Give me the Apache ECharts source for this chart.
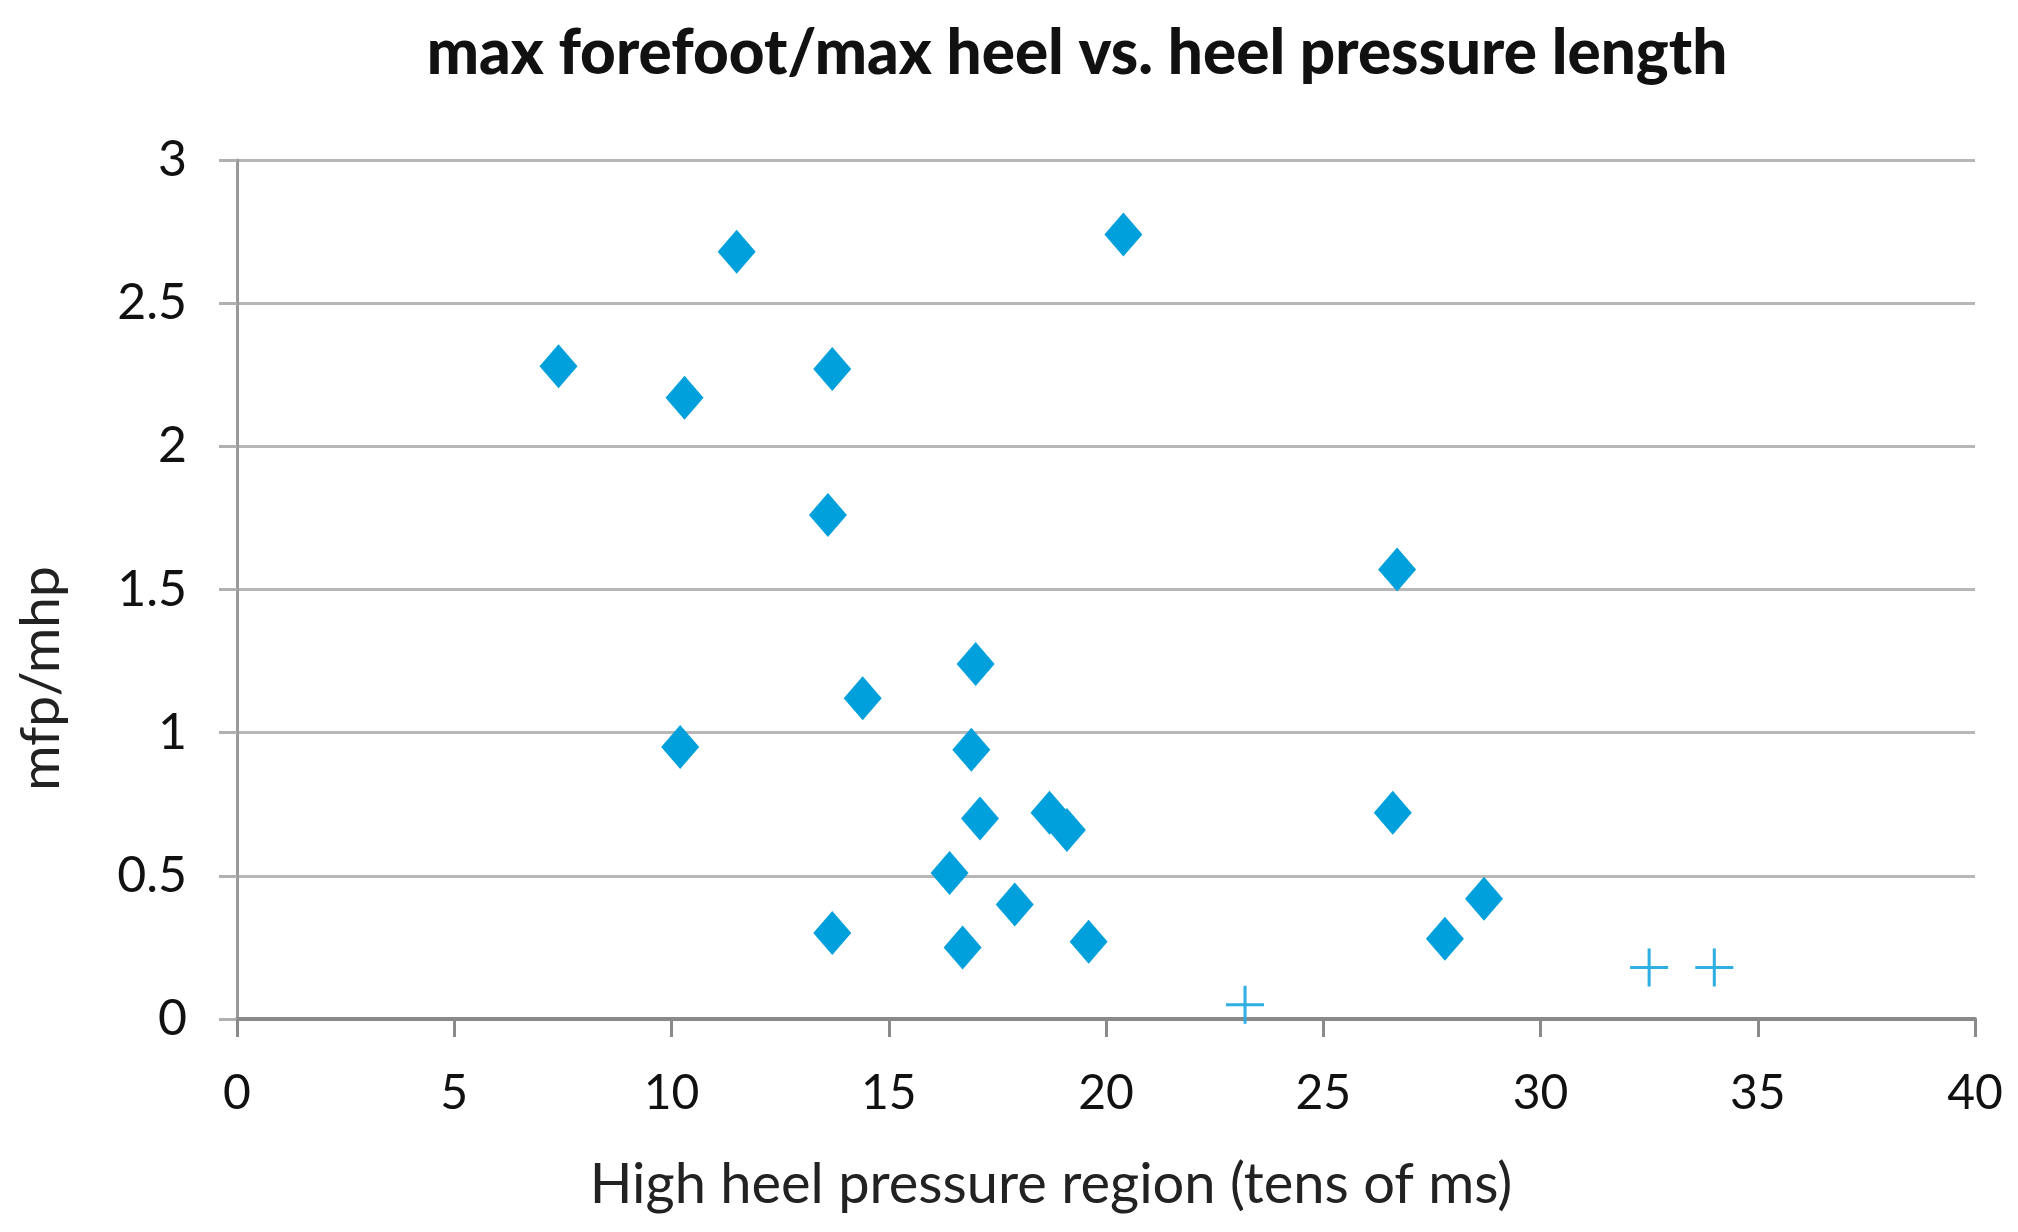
<!DOCTYPE html>
<html>
<head>
<meta charset="utf-8">
<title>max forefoot/max heel vs. heel pressure length</title>
<script src="https://cdn.jsdelivr.net/npm/echarts@6/dist/echarts.min.js"></script>
<style>
  html, body { margin: 0; padding: 0; background: #fff; }
  #chart { width: 2018px; height: 1232px; }
</style>
</head>
<body>
<div id="chart"></div>
<script>
// heel pressure length (tens of ms) and mfp/mhp ratio
const heelLength = [7.4, 11.5, 10.3, 13.7, 20.4, 13.6, 26.7, 17.0, 14.4, 10.2, 16.9,
  17.1, 18.7, 19.1, 26.6, 16.4, 17.9, 13.7, 16.7, 19.6, 27.8, 28.7];
const ratio = [2.28, 2.68, 2.17, 2.27, 2.74, 1.76, 1.57, 1.24, 1.12, 0.95, 0.94,
  0.70, 0.72, 0.66, 0.72, 0.51, 0.40, 0.30, 0.25, 0.27, 0.28, 0.42];

// second group drawn with plus markers
const plusLength = [23.2, 32.5, 34.0];
const plusRatio = [0.05, 0.18, 0.18];

const xTicks = [0, 5, 10, 15, 20, 25, 30, 35, 40];
const yTicks = [0, 0.5, 1, 1.5, 2, 2.5, 3];

const pairs = (xs, ys) => xs.map((x, i) => [x, ys[i]]);

const font = 'Lato, "Open Sans", "DejaVu Sans", sans-serif';
const plusPath = 'path://M-0.8,-10 L0.8,-10 L0.8,-0.8 L10,-0.8 L10,0.8 L0.8,0.8 L0.8,10 L-0.8,10 L-0.8,0.8 L-10,0.8 L-10,-0.8 L-0.8,-0.8 Z';

const chart = echarts.init(document.getElementById('chart'));
chart.setOption({
  backgroundColor: '#fff',
  animation: false,
  title: {
    text: 'max forefoot/max heel vs. heel pressure length',
    left: 1072,
    textAlign: 'center',
    top: 18,
    textStyle: { fontFamily: font, fontWeight: 900, fontSize: 62, color: '#111' }
  },
  grid: { left: 237, right: 43, top: 160, bottom: 213 },
  xAxis: {
    type: 'value',
    min: xTicks[0],
    max: xTicks[xTicks.length - 1],
    interval: 5,
    name: 'High heel pressure region (tens of ms)',
    nameLocation: 'middle',
    nameGap: 138,
    nameTextStyle: { fontFamily: font, fontSize: 56, color: '#222', padding: [0, 110, 0, 0] },
    axisLine: { show: true, lineStyle: { color: '#8a8a8a', width: 4 } },
    axisTick: { show: true, inside: false, length: 18, lineStyle: { color: '#8a8a8a', width: 3 } },
    axisLabel: { margin: 51, fontFamily: font, fontSize: 48, color: '#111' },
    splitLine: { show: false }
  },
  yAxis: {
    type: 'value',
    min: yTicks[0],
    max: yTicks[yTicks.length - 1],
    interval: 0.5,
    name: 'mfp/mhp',
    nameLocation: 'middle',
    nameGap: 168,
    nameRotate: 90,
    nameTextStyle: { fontFamily: font, fontSize: 55, color: '#222', padding: [0, 178, 0, 0] },
    axisLine: { show: true, lineStyle: { color: '#9a9a9a', width: 3 } },
    axisTick: { show: true, inside: false, length: 18, lineStyle: { color: '#b0b0b0', width: 3 } },
    axisLabel: { margin: 50, fontFamily: font, fontSize: 50, color: '#111' },
    splitLine: { show: true, lineStyle: { color: '#b7b7b7', width: 3 } }
  },
  series: [
    {
      name: 'heel region',
      type: 'scatter',
      symbol: 'diamond',
      symbolSize: [38, 44],
      itemStyle: { color: '#00A0DC', opacity: 1 },
      data: pairs(heelLength, ratio)
    },
    {
      name: 'outliers',
      type: 'scatter',
      symbol: plusPath,
      symbolSize: 38,
      itemStyle: { color: '#2FAEE3', opacity: 1 },
      data: pairs(plusLength, plusRatio)
    }
  ]
});
</script>
</body>
</html>
